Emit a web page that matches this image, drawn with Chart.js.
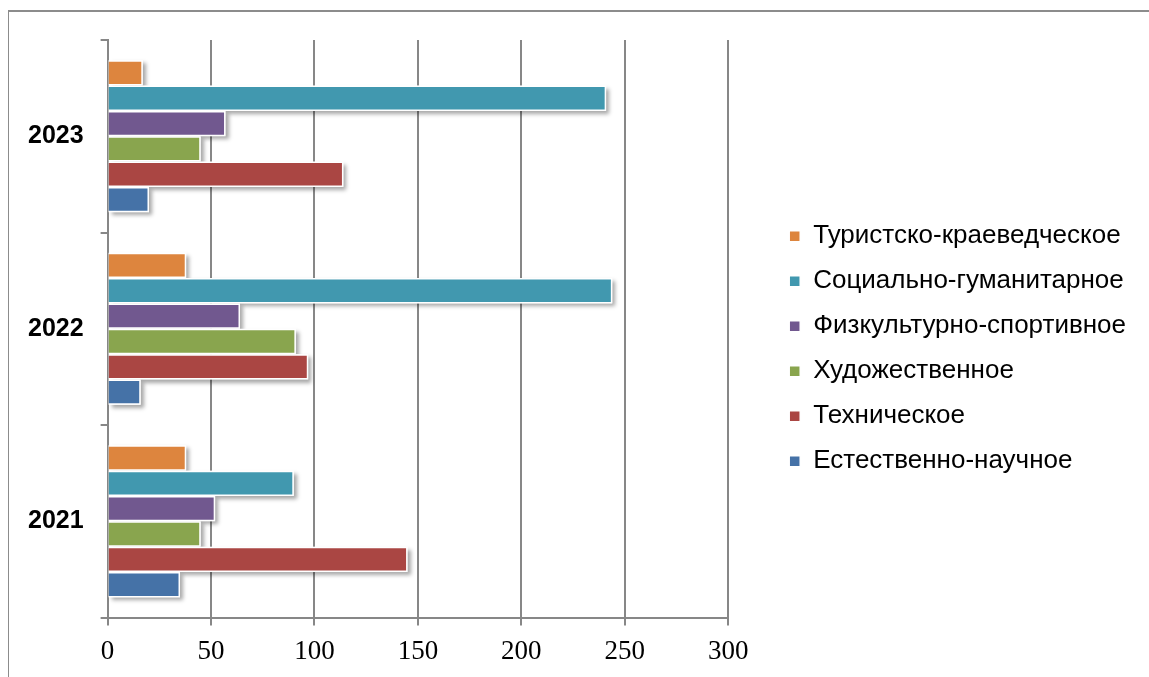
<!DOCTYPE html>
<html>
<head>
<meta charset="utf-8">
<script src="https://cdn.jsdelivr.net/npm/chart.js@4.4.1/dist/chart.umd.min.js"></script>
<style>
  html, body { margin: 0; padding: 0; background: #fff; }
  #wrap { position: relative; width: 1149px; height: 677px; overflow: hidden; }
  #frame { position: absolute; left: 8px; top: 10px; width: 1200px; height: 700px;
           border-left: 1px solid #8c8c8c; border-top: 2px solid #8c8c8c; }
  canvas { position: absolute; left: 0; top: 0; }
</style>
</head>
<body>
<div id="wrap">
  <div id="frame"></div>
  <canvas id="chart" width="1149" height="677"></canvas>
</div>
<script>
// years, top to bottom as in the picture
const years = ["2023", "2022", "2021"];

// series (legend order, top to bottom)
const seriesNames = [
  "Туристско-краеведческое",
  "Социально-гуманитарное",
  "Физкультурно-спортивное",
  "Художественное",
  "Техническое",
  "Естественно-научное"
];
const seriesColors = ["#DD853E", "#4198AF", "#71588F", "#89A54E", "#AA4643", "#4572A7"];

// values per year: 2023, 2022, 2021
const turist = [17, 38, 38];
const social = [241, 244, 90];
const sport = [57, 64, 52];
const art = [45, 91, 45];
const tech = [114, 97, 145];
const science = [20, 16, 35];

const xTicks = [0, 50, 100, 150, 200, 250, 300];

const seriesValues = [turist, social, sport, art, tech, science];

const gridColor = "#878787";

// soft shadow under the bars, drawn before the bars themselves
const barShadow = {
  id: "barShadow",
  beforeDatasetsDraw(chart) {
    const ctx = chart.ctx;
    ctx.save();
    ctx.shadowColor = "rgba(0,0,0,0.35)";
    ctx.shadowBlur = 4;
    ctx.shadowOffsetX = 3;
    ctx.shadowOffsetY = 3;
    ctx.fillStyle = "#ffffff";
    chart.data.datasets.forEach((ds, i) => {
      chart.getDatasetMeta(i).data.forEach(bar => {
        const p = bar.getProps(["x", "y", "base", "height"], true);
        ctx.fillRect(p.base, p.y - p.height / 2, p.x - p.base, p.height);
      });
    });
    ctx.restore();
  }
};

new Chart(document.getElementById("chart"), {
  type: "bar",
  data: {
    labels: years,
    datasets: seriesNames.map((name, i) => ({
      label: name,
      data: seriesValues[i],
      backgroundColor: seriesColors[i],
      borderColor: "#ffffff",
      borderWidth: 1.5,
      barPercentage: 1,
      categoryPercentage: 0.79
    }))
  },
  plugins: [barShadow],
  options: {
    indexAxis: "y",
    responsive: false,
    devicePixelRatio: 1,
    animation: false,
    layout: { padding: { left: 11, top: 40, right: 13, bottom: -1 } },
    plugins: {
      legend: {
        position: "right",
        align: "start",
        maxWidth: 420,
        // blank title only pushes the list down to where it sits in the picture
        title: {
          display: true,
          text: " ",
          padding: { top: 133, bottom: 0 },
          font: { size: 26 }
        },
        labels: {
          boxWidth: 11,
          boxHeight: 11,
          padding: 19,
          color: "#000",
          font: { family: "'Liberation Sans', Arial, sans-serif", size: 26 }
        }
      },
      tooltip: { enabled: false }
    },
    scales: {
      x: {
        min: 0,
        max: 300,
        afterBuildTicks: scale => { scale.ticks = xTicks.map(v => ({ value: v })); },
        grid: { color: gridColor, lineWidth: 2, tickLength: 8 },
        border: { color: gridColor, width: 2 },
        ticks: {
          color: "#000",
          padding: 10,
          font: { family: "'Liberation Serif', 'Times New Roman', serif", size: 27 }
        }
      },
      y: {
        grid: { drawOnChartArea: false, color: gridColor, lineWidth: 2, tickLength: 7 },
        border: { color: gridColor, width: 2 },
        ticks: {
          color: "#000",
          padding: 17,
          font: { family: "'Liberation Sans', Arial, sans-serif", size: 25, weight: "bold" }
        }
      },
      spacer: {
        type: "category",
        position: "right",
        grid: { display: false },
        border: { display: false },
        ticks: { display: false },
        afterFit: scale => { scale.width = 42; }
      }
    }
  }
});
</script>
</body>
</html>
